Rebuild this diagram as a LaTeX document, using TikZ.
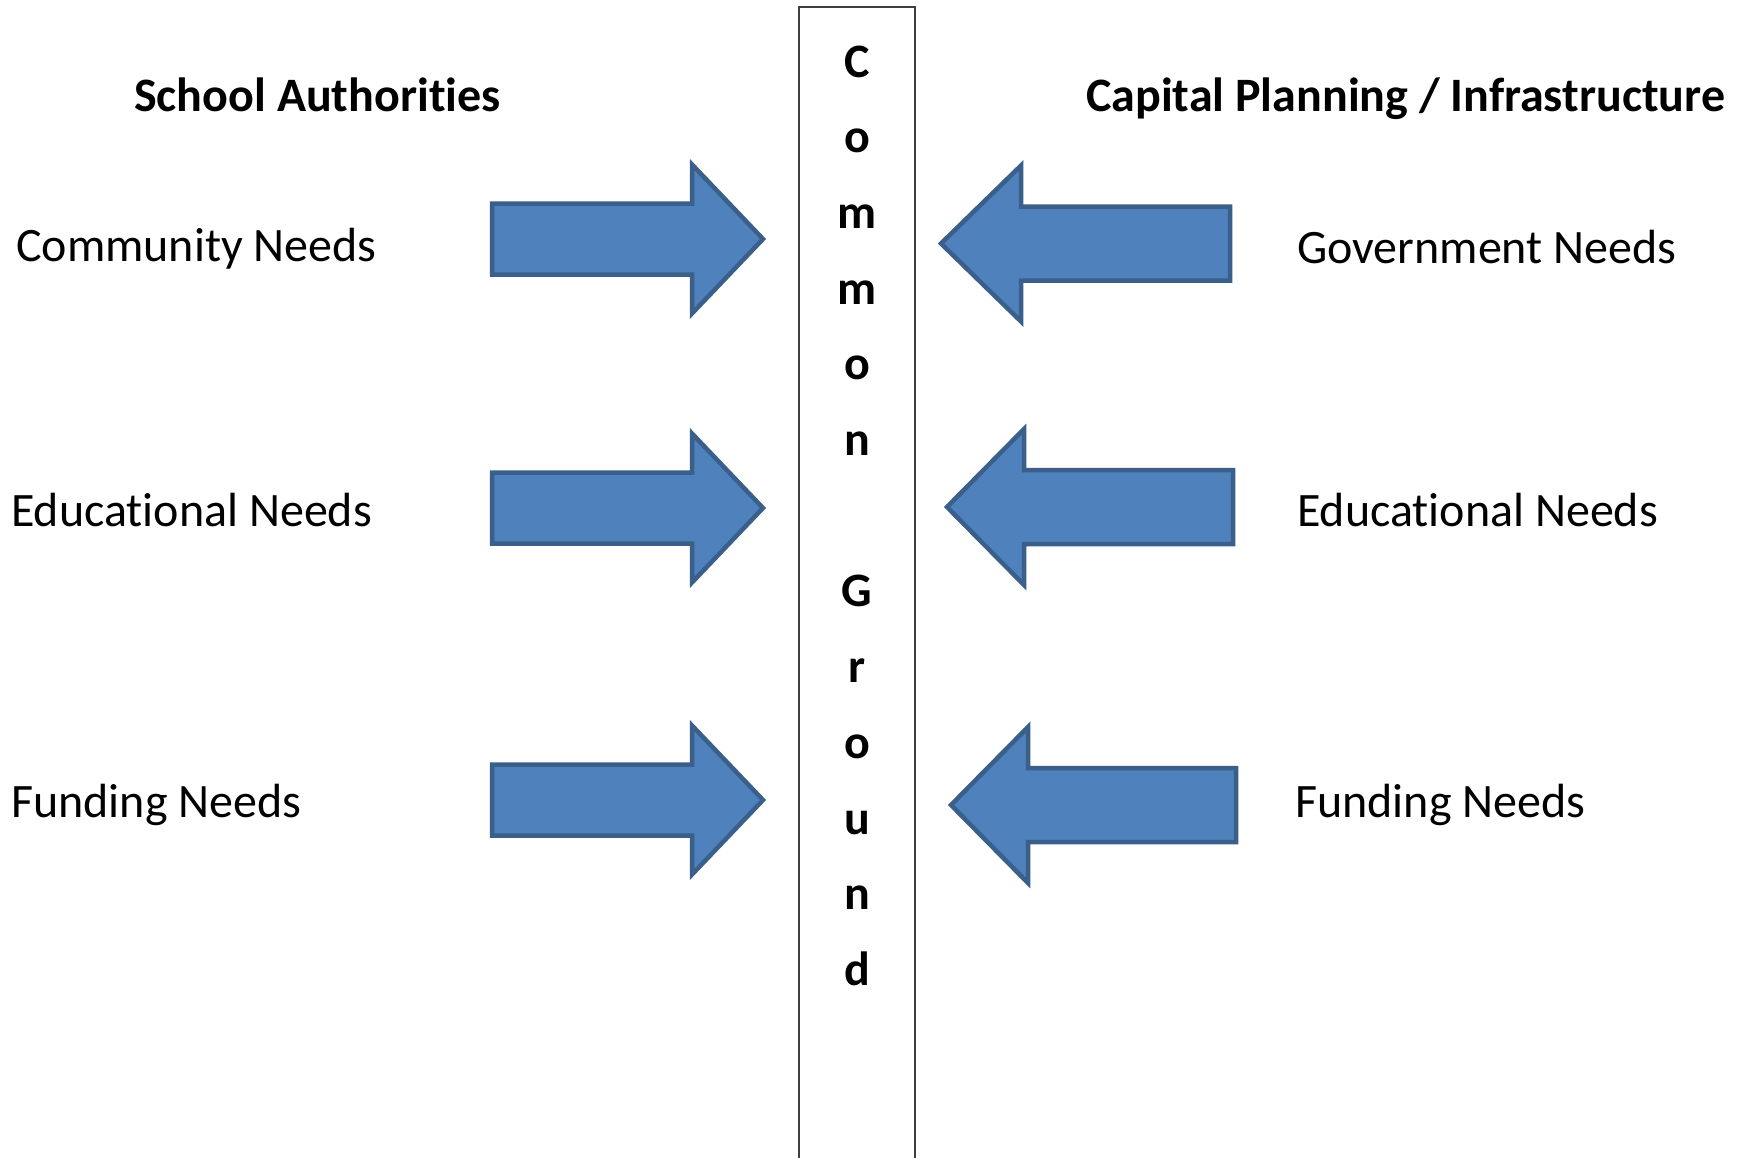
\documentclass[tikz,border=0pt]{standalone}
\usepackage{fontspec}
\setmainfont{Carlito}[RawFeature={-liga;-clig;-calt;-dlig;-rlig}]
\definecolor{arrowfill}{HTML}{4F81BD}
\definecolor{arrowline}{HTML}{3A5F8B}
\definecolor{boxline}{HTML}{3F3F3F}
\begin{document}
\begin{tikzpicture}[x=1pt,y=-1pt,
  blockarrow/.style={fill=arrowfill, draw=arrowline, line width=4.5pt, line join=miter},
  lbl/.style={anchor=base west, inner sep=0pt, font=\fontsize{48}{58}\selectfont},
  ttl/.style={anchor=base west, inner sep=0pt, font=\fontsize{48}{58}\selectfont\bfseries},
  letter/.style={anchor=base, inner sep=0pt, font=\fontsize{48}{58}\selectfont\bfseries},
  colbox/.style={draw=boxline, line width=2.5pt}]
\useasboundingbox (0,0) rectangle (1746,1157);
\fill[white] (0,0) rectangle (1746,1157);

% central column
\coordinate (btl) at (799,7);
\coordinate (btr) at (915,7);
\coordinate (bbl) at (799,1170);
\coordinate (bbr) at (915,1170);
\draw[colbox] (bbl) -- (btl) -- (btr) -- (bbr);

\foreach \ch [count=\i] in {C,o,m,m,o,n}
  \node[letter] (c\i) at (857,{77+75.7*(\i-1)}) {\ch};
\foreach \ch [count=\i from 8] in {G,r,o,u,n,d}
  \node[letter] (c\i) at (857,{77+75.7*(\i-1)}) {\ch};

% titles
\node[ttl] (sa) at (134,111) {School Authorit\kern0pt ies};
\node[ttl] (cp) at (1086,111) {Capital Planning / Infrastructure};

% left labels
\node[lbl] (l1) at (16,261) {Community Needs};
\node[lbl] (l2) at (11,526) {Educat\kern0pt ional Needs};
\node[lbl] (l3) at (11,817) {Funding Needs};
% right labels
\node[lbl] (r1) at (1297,263) {Government Needs};
\node[lbl] (r2) at (1297,526) {Educat\kern0pt ional Needs};
\node[lbl] (r3) at (1295,817) {Funding Needs};

% right-pointing arrows (left side)
\draw[blockarrow] (492,{239-35.5}) -- (692,{239-35.5}) -- (692,{239-74.5}) -- (763,239)
  -- (692,{239+74.5}) -- (692,{239+35.5}) -- (492,{239+35.5}) -- cycle;
\draw[blockarrow] (492,{508-35.5}) -- (692,{508-35.5}) -- (692,{508-74.5}) -- (763,508)
  -- (692,{508+74.5}) -- (692,{508+35.5}) -- (492,{508+35.5}) -- cycle;
\draw[blockarrow] (492,{800-35.5}) -- (692,{800-35.5}) -- (692,{800-74.5}) -- (763,800)
  -- (692,{800+74.5}) -- (692,{800+35.5}) -- (492,{800+35.5}) -- cycle;

% left-pointing arrows (right side)
\draw[blockarrow] (1230,{243.5-37}) -- (1021,{243.5-37}) -- (1021,{243.5-78}) -- (941,243.5)
  -- (1021,{243.5+78}) -- (1021,{243.5+37}) -- (1230,{243.5+37}) -- cycle;
\draw[blockarrow] (1233,{507-37}) -- (1024,{507-37}) -- (1024,{507-78}) -- (947,507)
  -- (1024,{507+78}) -- (1024,{507+37}) -- (1233,{507+37}) -- cycle;
\draw[blockarrow] (1236,{805-37}) -- (1028,{805-37}) -- (1028,{805-78}) -- (951,805)
  -- (1028,{805+78}) -- (1028,{805+37}) -- (1236,{805+37}) -- cycle;
\end{tikzpicture}
\end{document}
